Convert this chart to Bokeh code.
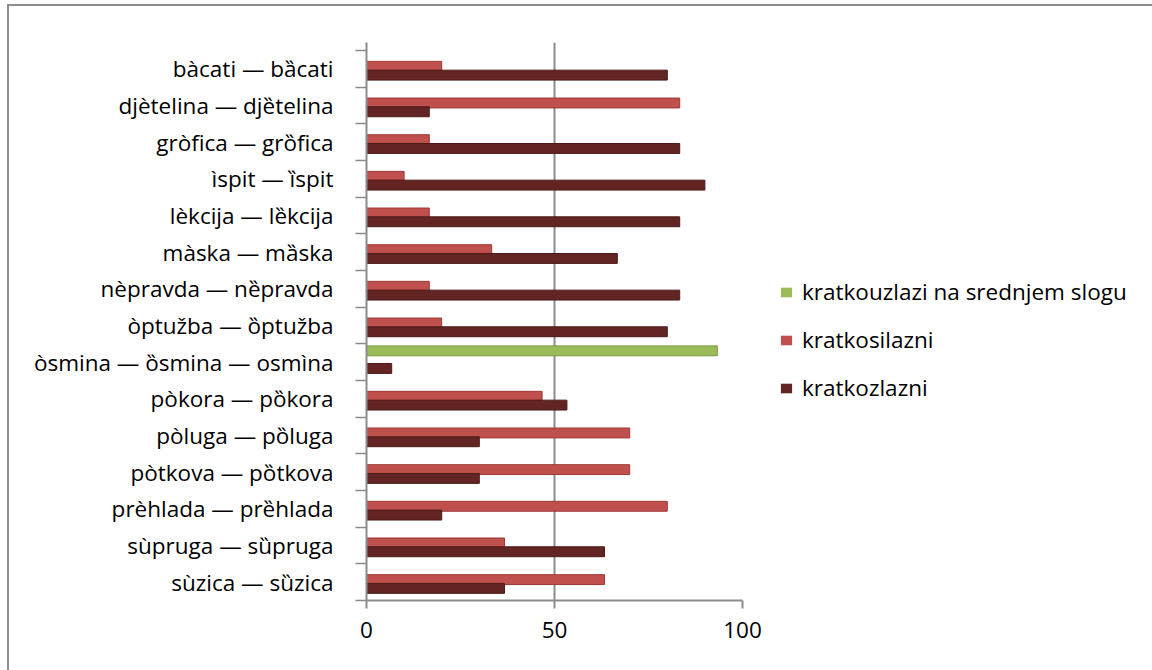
from bokeh.plotting import figure
from bokeh.models import Range1d, FixedTicker, Legend, LegendItem, ColumnDataSource
from bokeh.layouts import row
from bokeh.transform import dodge
from bokeh.embed import file_html
from bokeh.resources import INLINE

categories = [
    "bàcati — bȁcati",
    "djètelina — djȅtelina",
    "gròfica — grȍfica",
    "ìspit — ȉspit",
    "lèkcija — lȅkcija",
    "màska — mȁska",
    "nèpravda — nȅpravda",
    "òptužba — ȍptužba",
    "òsmina — ȍsmina — osmìna",
    "pòkora — pȍkora",
    "pòluga — pȍluga",
    "pòtkova — pȍtkova",
    "prèhlada — prȅhlada",
    "sùpruga — sȕpruga",
    "sùzica — sȕzica",
]
series_names = ["kratkouzlazi na srednjem slogu", "kratkosilazni", "kratkozlazni"]
kratkouzlazi_srednji = [0, 0, 0, 0, 0, 0, 0, 0, 93.3, 0, 0, 0, 0, 0, 0]
kratkosilazni = [20, 83.3, 16.7, 10, 16.7, 33.3, 16.7, 20, 0, 46.7, 70, 70, 80, 36.7, 63.3]
kratkozlazni = [80, 16.7, 83.3, 90, 83.3, 66.7, 83.3, 80, 6.7, 53.3, 30, 30, 20, 63.3, 36.7]
x_ticks = [0, 50, 100]

FONT = "Open Sans"
FS = "22.5px"
GRAY = "#8c8c8c"
n = len(categories)
ypos = [n - i - 0.5 for i in range(n)]

src = ColumnDataSource(dict(y=ypos, g=kratkouzlazi_srednji, r=kratkosilazni, d=kratkozlazni))

p = figure(frame_width=376, frame_height=558, output_backend="svg", toolbar_location=None,
           x_range=Range1d(0, 100), y_range=Range1d(0, n + 0.22),
           min_border_left=357, min_border_right=25, min_border_top=36, min_border_bottom=70)
p.outline_line_color = None
p.background_fill_color = "white"
p.border_fill_color = "white"

colors = ["#9bbb59", "#c0504d", "#632523"]
lines = ["#7a9a3c", "#9c3a37", "#4a1a18"]
offs = [0.31, 0.07, -0.17]
fields = ["g", "r", "d"]
for f, c, lc, o in zip(fields, colors, lines, offs):
    p.hbar(y=dodge("y", o), left=0, right=f, height=0.27, source=src,
           fill_color=c, line_color=lc, line_width=1)

xa = p.xaxis[0]
xa.ticker = FixedTicker(ticks=x_ticks)
xa.axis_line_color = GRAY
xa.axis_line_width = 2
xa.major_tick_line_color = GRAY
xa.major_tick_line_width = 2
xa.major_tick_out = 8
xa.major_tick_in = 0
xa.minor_tick_line_color = None
xa.major_label_text_font = FONT
xa.major_label_text_font_size = FS
xa.major_label_text_color = "black"
xa.major_label_standoff = 13

ya = p.yaxis[0]
ya.ticker = FixedTicker(ticks=ypos, minor_ticks=list(range(n + 1)))
ya.major_label_overrides = {y: c for y, c in zip(ypos, categories)}
ya.axis_line_color = GRAY
ya.axis_line_width = 2
ya.major_tick_line_color = None
ya.major_tick_out = 0
ya.major_tick_in = 0
ya.minor_tick_line_color = GRAY
ya.minor_tick_line_width = 1.5
ya.minor_tick_out = 11
ya.minor_tick_in = 0
ya.major_label_text_font = FONT
ya.major_label_text_font_size = FS
ya.major_label_text_color = "black"
ya.major_label_standoff = 22

p.xgrid.ticker = FixedTicker(ticks=x_ticks)
p.xgrid.grid_line_color = GRAY
p.xgrid.grid_line_width = 2
p.ygrid.grid_line_color = None

# legend panel: swatch renderers have zero height and no outline, so only their legend swatches show
pl = figure(width=385, height=664, output_backend="svg", toolbar_location=None,
            x_range=Range1d(0, 1), y_range=Range1d(0, 1),
            min_border_left=0, min_border_right=0, min_border_top=0, min_border_bottom=0)
pl.axis.visible = False
pl.grid.grid_line_color = None
pl.outline_line_color = None
pl.border_fill_color = "white"
leg_src = ColumnDataSource(dict(y=[-5], l=[5], r=[6]))
leg_rends = [pl.hbar(y="y", left="l", right="r", height=0, source=leg_src,
                     fill_color=c, line_color=None)
             for c in colors]
legend = Legend(items=[LegendItem(label=s, renderers=[r]) for s, r in zip(series_names, leg_rends)],
                location=(12, 197), orientation="vertical")
legend.padding = 0
legend.margin = 0
legend.border_line_color = None
legend.background_fill_alpha = 0
legend.glyph_width = 14
legend.glyph_height = 12
legend.label_standoff = 9
legend.label_height = 20
legend.spacing = 17
legend.label_text_font = FONT
legend.label_text_font_size = FS
legend.label_text_color = "black"
pl.add_layout(legend, "center")

root = row(p, pl, styles={"border-top": "2px solid #8c8c8c", "border-left": "2px solid #8c8c8c",
                          "margin-top": "4px", "margin-left": "7px"})

open("out.html", "w").write(file_html(root, INLINE))
